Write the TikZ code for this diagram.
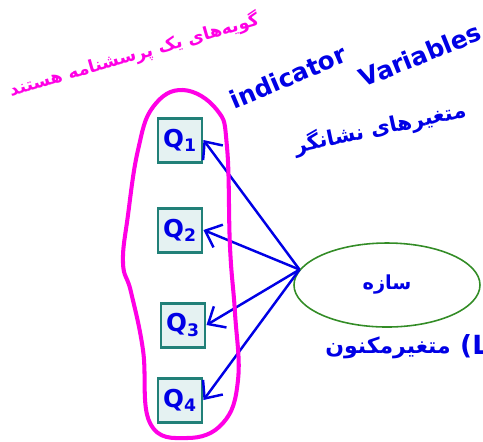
\documentclass[tikz,border=0pt]{standalone}
\usepackage{fontspec}
\setmainfont{DejaVu Sans}
\newfontfamily\fa[Script=Arabic]{DejaVu Sans}
\TeXXeTstate=1
\usetikzlibrary{arrows.meta,shapes.geometric}

\newlength{\du}
\setlength{\du}{0.02cm}

\definecolor{penblue}{rgb}{0.000000, 0.000000, 0.900000}
\definecolor{penpink}{rgb}{1.000000, 0.000000, 0.900000}
\definecolor{boxteal}{rgb}{0.130000, 0.500000, 0.470000}
\definecolor{boxfill}{rgb}{0.900000, 0.950000, 0.950000}
\definecolor{ellgreen}{rgb}{0.200000, 0.550000, 0.150000}

\tikzset{
  qbox/.style={draw=boxteal, fill=boxfill, line width=1.7pt, minimum size=44\du, inner sep=0pt,
    text=penblue, font=\fontsize{14}{16}\selectfont\bfseries},
  penarrow/.style={draw=penblue, line width=1.4pt, -{Straight Barb[length=8pt,width=14pt]}},
  pentext/.style={text=penblue, font=\fontsize{14}{16}\selectfont\bfseries},
  pinktext/.style={text=penpink, font=\fontsize{10}{12}\selectfont\bfseries},
}

\begin{document}
\begin{tikzpicture}
\pgftransformxscale{1.000000}
\pgftransformyscale{-1.000000}
\useasboundingbox (0\du,0\du) rectangle (483\du,441\du);

% items
\node[qbox] (q1) at (180\du,140\du) {Q\textsubscript{1}};
\node[qbox] (q2) at (180\du,230\du) {Q\textsubscript{2}};
\node[qbox] (q3) at (183\du,325\du) {Q\textsubscript{3}};
\node[qbox] (q4) at (180\du,400\du) {Q\textsubscript{4}};

% latent construct
\node[ellipse, draw=ellgreen, line width=0.9pt, minimum width=186\du, minimum height=84\du,
  text=penblue, font=\fontsize{11}{13}\selectfont\bfseries] (latent) at (387\du,285\du) {\fa\beginR سازه\endR};
\coordinate (hub) at (latent.170);

\draw[penarrow] (hub) -- (q1.east);
\draw[penarrow] (hub) -- (q2.east);
\draw[penarrow] (hub) -- (q3.east);
\draw[penarrow] (hub) -- (q4.east);

% loop round the items
\draw[penpink, line width=2.3pt] plot[smooth cycle, tension=0.7] coordinates {
  (183\du,90\du) (217\du,110\du) (227\du,147\du) (230\du,247\du) (235\du,313\du)
  (238\du,380\du) (223\du,423\du) (187\du,438\du) (150\du,423\du) (143\du,350\du)
  (131\du,292\du) (123\du,263\du) (128\du,215\du) (138\du,150\du) (153\du,107\du)};

% labels
\node[pinktext, rotate=16] (itemlabel) at (134\du,55\du) {\fa\beginR گویه‌های یک پرسشنامه هستند\endR};
\node[pentext, rotate=23] (indword) at (288\du,77\du) {indicator};
\node[pentext, rotate=22] (varword) at (420\du,55\du) {Variables};
\node[pentext, rotate=12, font=\fontsize{12}{14}\selectfont\bfseries] (indlabel) at (380\du,128\du) {\fa\beginR متغیرهای نشانگر\endR};
\node[pentext, font=\fontsize{12.5}{15}\selectfont\bfseries] (latlabel) at (388\du,348\du) {\fa\beginR متغیرمکنون\endR};
\node[pentext, anchor=west, font=\fontsize{15}{18}\selectfont\bfseries] (latabbr) at (454\du,346\du) {(L};
\end{tikzpicture}
\end{document}
